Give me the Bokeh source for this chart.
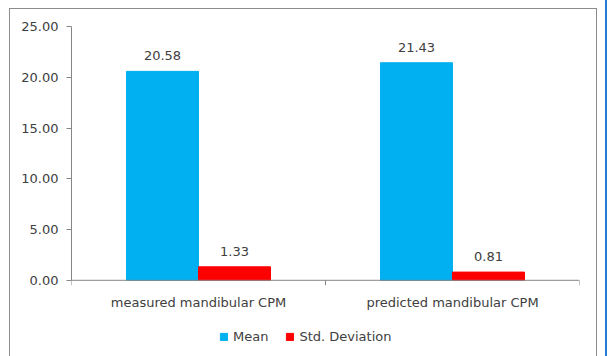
from bokeh.plotting import figure
from bokeh.models import (ColumnDataSource, FixedTicker, Legend, LegendItem, Range1d,
                          NumeralTickFormatter, Span)
from bokeh.embed import file_html
from bokeh.resources import INLINE
from bokeh.core.properties import value

categories = ["measured mandibular CPM", "predicted mandibular CPM"]
mean_values = [20.58, 21.43]
std_values = [1.33, 0.81]
series_names = ["Mean", "Std. Deviation"]
y_ticks = [0, 5, 10, 15, 20, 25]

FONT = "DejaVu Sans"
TXT = "#404040"
AX = "#868686"
BAR_W = 0.2835
Y_MAX = 25
Y_MIN = -7.8          # extra room under the baseline for the axis labels and legend
FRAME_H = 333
FRAME_W = 508
PX_PER_UNIT = FRAME_H / (Y_MAX - Y_MIN)
TICK_LEN = 5 / PX_PER_UNIT

n = len(categories)
centers = [i + 0.5 for i in range(n)]
bounds = list(range(n + 1))
src_mean = ColumnDataSource(dict(x=[c - BAR_W / 2 for c in centers], y=mean_values,
                                 lbl=["%.2f" % v for v in mean_values]))
src_std = ColumnDataSource(dict(x=[c + BAR_W / 2 for c in centers], y=std_values,
                                lbl=["%.2f" % v for v in std_values]))

p = figure(frame_width=FRAME_W, frame_height=FRAME_H, output_backend="svg", toolbar_location=None,
           x_range=Range1d(0, n), y_range=Range1d(Y_MIN, Y_MAX), x_axis_location=None,
           min_border_left=61, min_border_right=17, min_border_top=17, min_border_bottom=5,
           styles={"border": "1px solid #8c8c8c", "margin-left": "9px", "margin-top": "8px",
                   "box-shadow": "8px -9px 0 0 white, 10px -9px 0 0 #1f7ed4"})
p.outline_line_color = None
p.xgrid.visible = False
p.ygrid.visible = False
p.background_fill_color = "white"
p.border_fill_color = "white"

r1 = p.vbar(x="x", top="y", bottom=0, width=BAR_W, source=src_mean, color="#00B0F0")
r2 = p.vbar(x="x", top="y", bottom=0, width=BAR_W, source=src_std, color="#FF0000")

for s in (src_mean, src_std):
    p.text(x="x", y="y", text="lbl", source=s, text_align="center", text_baseline="bottom",
           y_offset=-11, text_font=value(FONT), text_font_size="13px", text_color=TXT)

# category (x) axis drawn at the zero baseline
p.add_layout(Span(location=0, dimension="width", line_color=AX, line_width=1))
p.segment(x0=bounds, y0=[0] * len(bounds), x1=bounds, y1=[-TICK_LEN] * len(bounds),
          line_color=AX, line_width=1)
p.text(x=centers, y=[0] * n, text=categories, text_align="center", text_baseline="middle",
       y_offset=22, text_font=value(FONT), text_font_size="13px", text_color=TXT)

# y axis
ya = p.yaxis[0]
ya.bounds = (0, Y_MAX)
ya.ticker = FixedTicker(ticks=y_ticks)
ya.formatter = NumeralTickFormatter(format="0.00")
ya.axis_line_color = AX
ya.major_tick_line_color = AX
ya.major_tick_out = 5
ya.major_tick_in = 0
ya.minor_tick_line_color = None
ya.major_label_text_font = FONT
ya.major_label_text_font_size = "13px"
ya.major_label_text_color = TXT
ya.major_label_standoff = 8

legend = Legend(items=[LegendItem(label=series_names[0], renderers=[r1]),
                       LegendItem(label=series_names[1], renderers=[r2])],
                orientation="horizontal", location=(148, 15), padding=0, margin=0,
                glyph_width=9, glyph_height=9, label_standoff=5, spacing=17,
                border_line_color=None, background_fill_alpha=0,
                label_text_font=FONT, label_text_font_size="13px", label_text_color=TXT)
p.add_layout(legend, "center")

open("out.html", "w").write(file_html(p, INLINE))
